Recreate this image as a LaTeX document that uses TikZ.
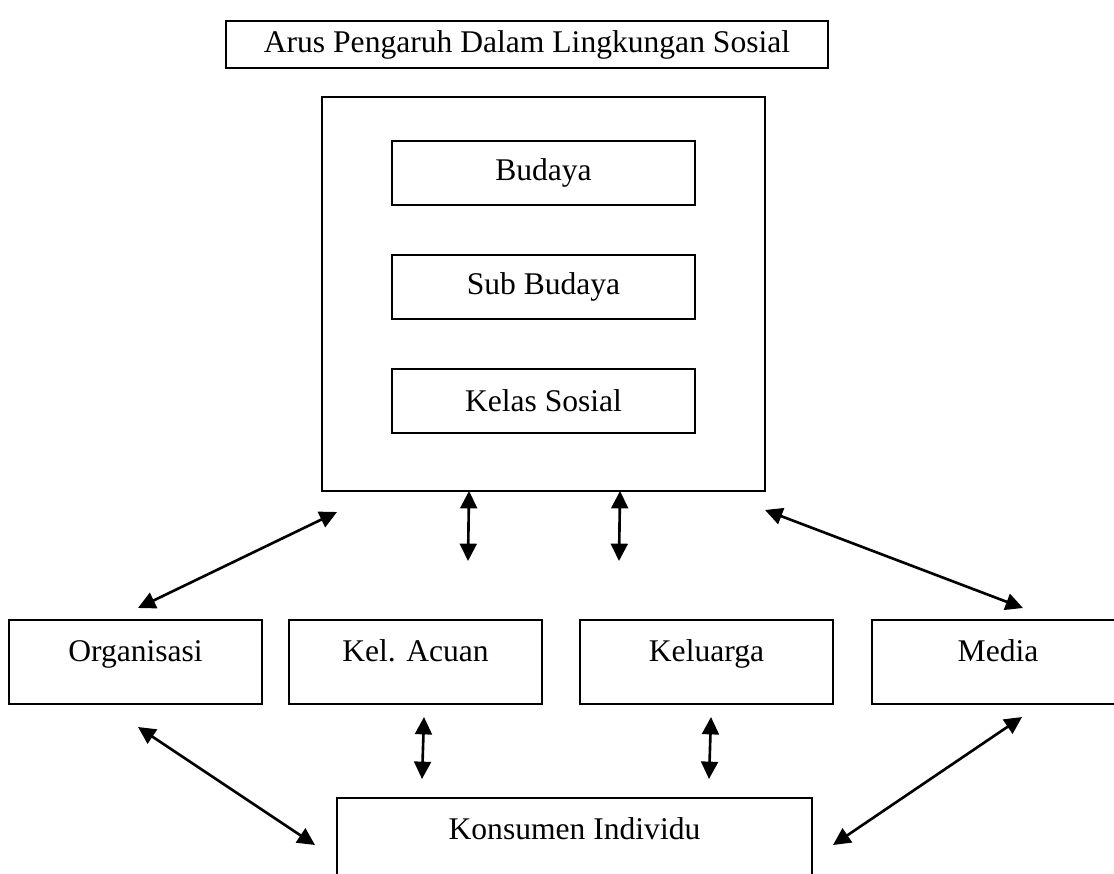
\documentclass[tikz,border=0pt]{standalone}
\usepackage{fontspec}
\setmainfont{Liberation Serif}
\usepackage{tikz}
\usetikzlibrary{
    arrows.meta,
    positioning
}

\begin{document}
\begin{tikzpicture}[
        x=0.38pt, y=-0.38pt,
        >={Triangle[length=6.6pt,width=6.4pt]},
        box/.style={
            draw,
            line width=0.8pt,
            inner sep=0pt,
            font=\fontsize{12pt}{14pt}\selectfont
        },
        rowbox/.style={
            box,
            anchor=north,
            minimum width=96.1pt,
            text height=15.8pt,
            text depth=16.2pt
        },
        link/.style={
            <->,
            line width=1pt
        }
    ]
        \useasboundingbox (0,0) rectangle (1114,874);
        \clip (0,0) rectangle (1114,874);

        % judul dan kotak lingkungan sosial
        \node[box, minimum width=228.8pt, minimum height=17.9pt] (judul) at (527,44.5) {Arus Pengaruh Dalam Lingkungan Sosial};
        \node[box, minimum width=168.3pt, minimum height=149.7pt] (sosial) at (543.5,294) {};
        \node[box, minimum width=115.1pt, minimum height=24.3pt] (budaya) at (543.5,173) {Budaya};
        \node[box, minimum width=115.1pt, minimum height=24.3pt] (subbudaya) at (543.5,287) {Sub Budaya};
        \node[box, minimum width=115.1pt, minimum height=24.3pt] (kelas) at (543.5,401) {Kelas Sosial};

        % kelompok acuan
        \node[rowbox] (organisasi) at (135.5,619) {Organisasi};
        \node[rowbox] (acuan) at (415.5,619) {Kel. Acuan};
        \node[rowbox] (keluarga) at (706.5,619) {Keluarga};
        \node[rowbox] (media) at (998,619) {Media};
        \node[rowbox, minimum width=180.5pt] (konsumen) at (574.5,797) {Konsumen Individu};

        % ujung panah
        \coordinate (s1) at (337,512);
        \coordinate (o1) at (138,608);
        \coordinate (s2) at (469,491);
        \coordinate (a1) at (468,561);
        \coordinate (s3) at (620,491);
        \coordinate (k1) at (619,561);
        \coordinate (s4) at (765,510);
        \coordinate (m1) at (1023,608);
        \coordinate (o2) at (138,727);
        \coordinate (i1) at (315,845);
        \coordinate (a2) at (424,717);
        \coordinate (i2) at (422,779);
        \coordinate (k2) at (711,717);
        \coordinate (i3) at (709,779);
        \coordinate (m2) at (1022,717);
        \coordinate (i4) at (833,845);

        \draw[link] (s1) -- (o1);
        \draw[link] (s2) -- (a1);
        \draw[link] (s3) -- (k1);
        \draw[link] (s4) -- (m1);
        \draw[link] (o2) -- (i1);
        \draw[link] (a2) -- (i2);
        \draw[link] (k2) -- (i3);
        \draw[link] (m2) -- (i4);
    \end{tikzpicture}
\end{document}
